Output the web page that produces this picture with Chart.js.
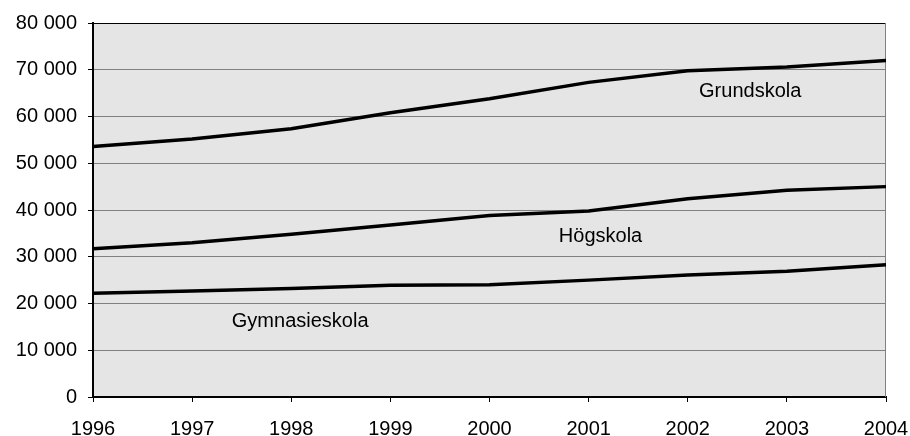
<!DOCTYPE html>
<html>
<head>
<meta charset="utf-8">
<script src="https://cdn.jsdelivr.net/npm/chart.js@4/dist/chart.umd.min.js"></script>
<style>
    body { margin: 0; background: #fff; }
</style>
</head>
<body>
<canvas id="myChart" width="910" height="436"></canvas>
<script>
'use strict';
const years = ['1996', '1997', '1998', '1999', '2000', '2001', '2002', '2003', '2004'];
const grundskola = [53600, 55200, 57400, 60800, 63800, 67300, 69800, 70600, 72000];
const hogskola = [31700, 33000, 34800, 36800, 38800, 39800, 42400, 44200, 45000];
const gymnasieskola = [22200, 22700, 23200, 23900, 24000, 25000, 26100, 26900, 28300];
const yTicks = [0, 10000, 20000, 30000, 40000, 50000, 60000, 70000, 80000];

// series names written inside the plot, placed in data units (category index, value)
const seriesLabels = [
    { text: 'Grundskola', x: 6.63, y: 64100 },
    { text: 'Högskola', x: 5.12, y: 33100 },
    { text: 'Gymnasieskola', x: 2.09, y: 15000 },
];

const fontFamily = "'Liberation Sans', Arial, sans-serif";

function spaced(v) {
    return String(v).replace(/\B(?=(\d{3})+(?!\d))/g, ' ');
}

const plotFrame = {
    id: 'plotFrame',
    beforeDraw: function (chart) {
        const a = chart.chartArea;
        const ctx = chart.ctx;
        ctx.save();
        ctx.fillStyle = '#e5e5e5';
        ctx.fillRect(a.left, a.top, a.right - a.left, a.bottom - a.top);
        ctx.restore();
    },
    beforeDatasetsDraw: function (chart) {
        const a = chart.chartArea;
        const ctx = chart.ctx;
        ctx.save();
        ctx.strokeStyle = '#808080';
        ctx.lineWidth = 1;
        ctx.beginPath();
        ctx.moveTo(Math.round(a.right) - 0.5, a.top);
        ctx.lineTo(Math.round(a.right) - 0.5, a.bottom);
        ctx.stroke();
        ctx.restore();
    },
    afterDatasetsDraw: function (chart) {
        const ctx = chart.ctx;
        const xs = chart.scales.x;
        const ys = chart.scales.y;
        ctx.save();
        ctx.font = '20px ' + fontFamily;
        ctx.fillStyle = '#000';
        ctx.textAlign = 'center';
        ctx.textBaseline = 'alphabetic';
        for (let i = 0; i < seriesLabels.length; i++) {
            const l = seriesLabels[i];
            ctx.fillText(l.text, xs.getPixelForValue(l.x), ys.getPixelForValue(l.y));
        }
        ctx.restore();
    }
};

function lineSet(label, data) {
    return {
        label: label,
        data: data,
        borderColor: '#000',
        borderWidth: 3.5,
        pointRadius: 0,
        tension: 0,
        fill: false,
    };
}

new Chart(document.getElementById('myChart'), {
    type: 'line',
    data: {
        labels: years,
        datasets: [
            lineSet('Grundskola', grundskola),
            lineSet('Högskola', hogskola),
            lineSet('Gymnasieskola', gymnasieskola),
        ]
    },
    options: {
        responsive: false,
        animation: false,
        layout: { padding: { top: 23, right: 24, left: 0, bottom: 0 } },
        plugins: {
            legend: { display: false },
            tooltip: { enabled: false },
        },
        scales: {
            x: {
                offset: false,
                afterFit: function (scale) {
                    scale.height = 39;
                    scale.paddingLeft = 0;
                    scale.paddingRight = 0;
                },
                grid: {
                    drawOnChartArea: false,
                    offset: false,
                    tickLength: 5,
                    tickColor: '#000',
                },
                border: { color: '#000', width: 2 },
                ticks: {
                    color: '#000',
                    padding: 15,
                    maxRotation: 0,
                    font: { size: 20, family: fontFamily },
                },
            },
            y: {
                min: 0,
                max: 80000,
                afterFit: function (scale) { scale.width = 93; },
                afterBuildTicks: function (scale) {
                    scale.ticks = yTicks.map(function (v) { return { value: v }; });
                },
                grid: {
                    color: function (c) { return c.tick && c.tick.value === 80000 ? '#000' : '#808080'; },
                    lineWidth: 1,
                    tickLength: 5,
                    tickColor: '#000',
                },
                border: { color: '#000', width: 2 },
                ticks: {
                    color: '#000',
                    padding: 11,
                    font: { size: 20, family: fontFamily },
                    callback: function (v) { return spaced(v); },
                },
            }
        }
    },
    plugins: [plotFrame]
});
</script>
</body>
</html>
